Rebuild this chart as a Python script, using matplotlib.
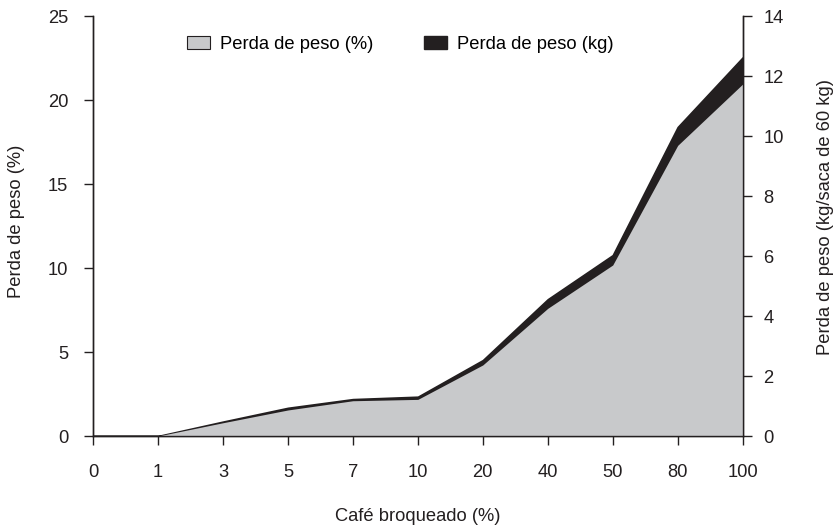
import matplotlib
matplotlib.use("Agg")
import matplotlib.pyplot as plt
from matplotlib.patches import Patch
import numpy as np

plt.rcParams['font.family'] = ['Liberation Sans', 'DejaVu Sans']
fs = 13.2

categories = ['0', '1', '3', '5', '7', '10', '20', '40', '50', '80', '100']
perda_pct = [0, 0, 0.79, 1.55, 2.1, 2.18, 4.23, 7.6, 10.18, 17.3, 20.95]
perda_kg = [0, 0, 0.48, 0.94, 1.23, 1.31, 2.53, 4.56, 6.03, 10.3, 12.62]

gray = '#c8c9cb'
black = '#231f20'
ink = '#231f20'

x = np.arange(len(categories))

fig = plt.figure(figsize=(8.35, 5.25), dpi=100)
ax1 = fig.add_axes([0.1114, 0.1695, 0.778, 0.80])
ax2 = ax1.twinx()

# kg area on the right axis, drawn behind the % area
ax2.fill_between(x, 0, perda_kg, color=black, edgecolor=black, linewidth=1.2)
ax1.fill_between(x, 0, perda_pct, color=gray, linewidth=0)
ax1.set_zorder(ax2.get_zorder() + 1)
ax1.patch.set_visible(False)

ax1.set_xlim(0, len(categories) - 1)
ax1.set_ylim(0, 25)
ax2.set_ylim(0, 14)
ax1.set_xticks(x)
ax1.set_xticklabels(categories)
ax1.set_yticks([0, 5, 10, 15, 20, 25])
ax2.set_yticks([0, 2, 4, 6, 8, 10, 12, 14])

for ax in (ax1, ax2):
    ax.spines['top'].set_visible(False)
    for s in ax.spines.values():
        s.set_color(ink)
        s.set_linewidth(1.0)
    ax.tick_params(colors=ink, length=6.5, width=1.0, labelsize=fs)

ax1.tick_params(axis='x', pad=14)
ax1.tick_params(axis='y', pad=11.5)
ax2.tick_params(axis='y', pad=8.6)

ax1.set_xlabel('Café broqueado (%)', fontsize=fs, labelpad=19, color=ink)
ax1.set_ylabel('Perda de peso (%)', fontsize=fs, color=ink)
ax2.set_ylabel('Perda de peso (kg/saca de 60 kg)', fontsize=fs, color=ink)
ax1.yaxis.set_label_coords(-0.105, 0.512)
ax2.yaxis.set_label_coords(1.114, 0.521)

handles = [Patch(facecolor=gray, edgecolor=ink, linewidth=0.8, label='Perda de peso (%)'),
           Patch(facecolor=black, edgecolor=black, label='Perda de peso (kg)')]
ax1.legend(handles=handles, loc='upper left', bbox_to_anchor=(0.1446, 0.952), ncol=2,
           frameon=False, borderpad=0, borderaxespad=0, columnspacing=2.75,
           handlelength=1.25, handleheight=0.7, handletextpad=0.55, fontsize=fs)

fig.savefig('out.png', dpi=100)
